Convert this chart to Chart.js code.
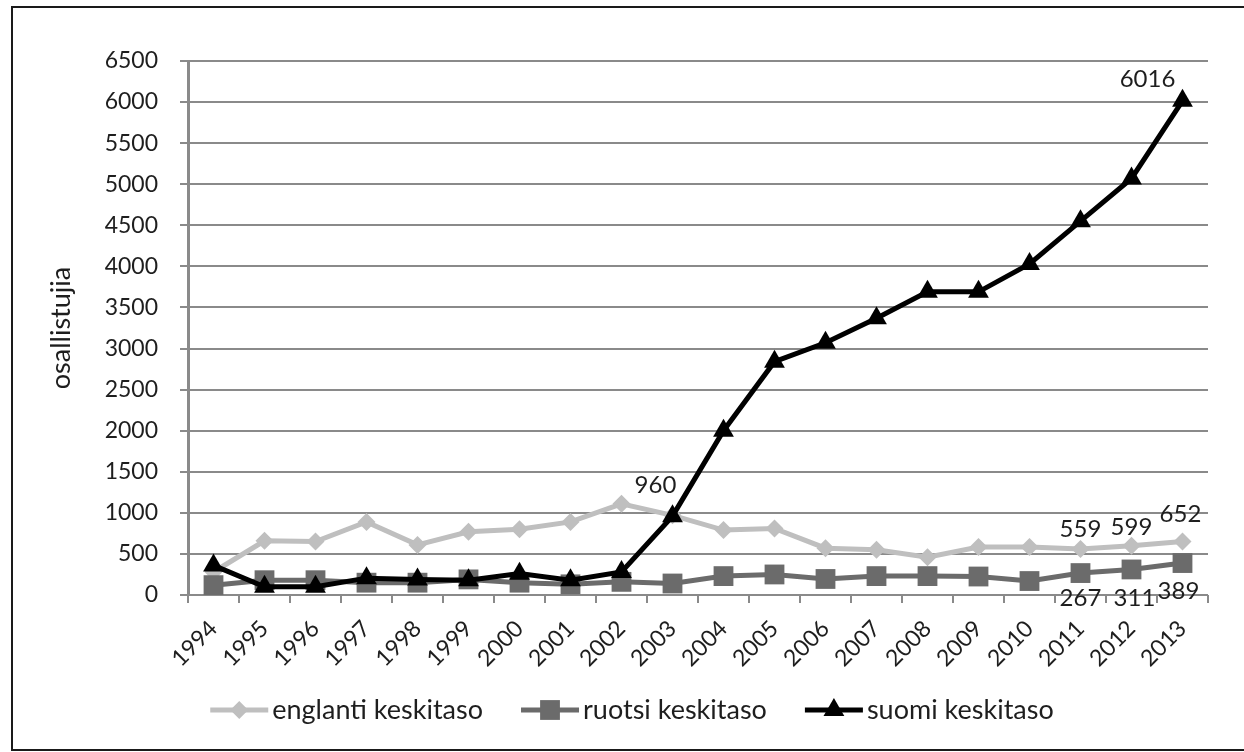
<!DOCTYPE html>
<html>
<head>
<meta charset="utf-8">
<script src="https://cdn.jsdelivr.net/npm/chart.js@4.4.1/dist/chart.umd.min.js"></script>
<style>
html,body{margin:0;padding:0;background:#fff;overflow:hidden}
#wrap{position:relative;width:1244px;height:752px}
#frame{position:absolute;left:11px;top:6px;width:1300px;height:745px;border:2px solid #1a1a1a;box-sizing:border-box;pointer-events:none}
canvas{position:absolute;left:0;top:0}
</style>
</head>
<body>
<div id="wrap"><canvas id="chart" width="1244" height="752"></canvas><div id="frame"></div></div>
<script>
// participants per year
const years = ['1994','1995','1996','1997','1998','1999','2000','2001','2002','2003','2004','2005','2006','2007','2008','2009','2010','2011','2012','2013'];
const englanti = [280, 660, 650, 890, 610, 770, 800, 890, 1110, 970, 790, 810, 570, 550, 460, 585, 585, 559, 599, 652];
const ruotsi   = [120, 180, 180, 150, 150, 190, 150, 130, 160, 140, 230, 250, 195, 230, 230, 225, 170, 267, 311, 389];
const suomi    = [360, 100, 100, 205, 190, 180, 260, 180, 280, 960, 2000, 2840, 3070, 3370, 3690, 3690, 4030, 4550, 5070, 6016];
const seriesNames = ['englanti keskitaso', 'ruotsi keskitaso', 'suomi keskitaso'];
const yTitle = 'osallistujia';
// which points carry a value label
const englantiLabelled = [17, 18, 19];
const ruotsiLabelled = [17, 18, 19];
const suomiLabelled = [9, 19];

const FONT = 'Lato';
const colors = ['#bfbfbf', '#6b6b6b', '#000000'];
const styles = ['rectRot', 'rect', 'triangle'];
const radii = [9, 14, 12];

// label offsets relative to the point, per series
const labelOffsets = [
  {17:[0,-20], 18:[0,-19], 19:[-2,-27]},
  {17:[0,25], 18:[3,29], 19:[-4,28]},
  {9:[-17,-31], 19:[-35,-21]}
];
const labelled = [englantiLabelled, ruotsiLabelled, suomiLabelled];

const valueLabels = {
  id:'valueLabels',
  afterDatasetsDraw(chart){
    const ctx = chart.ctx;
    ctx.save();
    ctx.font = '24px "' + FONT + '"';
    ctx.fillStyle = '#1e1e1e';
    ctx.textAlign = 'center';
    ctx.textBaseline = 'middle';
    labelled.forEach((idxs, ds) => {
      const meta = chart.getDatasetMeta(ds);
      idxs.forEach(i => {
        const p = meta.data[i];
        const off = labelOffsets[ds][i] || [0,-20];
        ctx.fillText(String(chart.data.datasets[ds].data[i]), p.x + off[0], p.y + off[1]);
      });
    });
    ctx.restore();
  }
};

// y axis title, placed by hand next to the tick labels
const sideTitle = {
  id:'sideTitle',
  afterDraw(chart){
    const ctx = chart.ctx, a = chart.chartArea;
    ctx.save();
    ctx.font = '27px "' + FONT + '"';
    ctx.fillStyle = '#1e1e1e';
    ctx.translate(61, (a.top + a.bottom) / 2);
    ctx.rotate(-Math.PI / 2);
    ctx.textAlign = 'center';
    ctx.textBaseline = 'middle';
    ctx.fillText(yTitle, 0, 0);
    ctx.restore();
  }
};

function marker(ctx, style, x, y, r){
  ctx.beginPath();
  if(style === 'rectRot'){
    ctx.moveTo(x, y - r); ctx.lineTo(x + r, y); ctx.lineTo(x, y + r); ctx.lineTo(x - r, y);
  } else if(style === 'rect'){
    const s = r * Math.SQRT1_2;
    ctx.rect(x - s, y - s, 2 * s, 2 * s);
  } else {
    const h = r * 1.5, w = r * Math.sqrt(3) / 2;
    ctx.moveTo(x, y - h * 2 / 3); ctx.lineTo(x + w, y + h / 3); ctx.lineTo(x - w, y + h / 3);
  }
  ctx.closePath();
  ctx.fill();
}

const bottomLegend = {
  id:'bottomLegend',
  afterDraw(chart){
    const ctx = chart.ctx;
    ctx.save();
    ctx.font = '27px "' + FONT + '"';
    const lineLen = 58, gapText = 4, gapItem = 38;
    const widths = seriesNames.map(n => ctx.measureText(n).width);
    const total = widths.reduce((t, w) => t + lineLen + gapText + w, 0) + gapItem * (seriesNames.length - 1);
    let x = 632 - total / 2;
    const y = 710;
    seriesNames.forEach((n, k) => {
      ctx.strokeStyle = colors[k];
      ctx.fillStyle = colors[k];
      ctx.lineWidth = 5;
      ctx.beginPath(); ctx.moveTo(x, y); ctx.lineTo(x + lineLen, y); ctx.stroke();
      marker(ctx, styles[k], x + lineLen / 2, y, radii[k]);
      ctx.fillStyle = '#1e1e1e';
      ctx.textAlign = 'left';
      ctx.textBaseline = 'middle';
      ctx.fillText(n, x + lineLen + gapText, y);
      x += lineLen + gapText + widths[k] + gapItem;
    });
    ctx.restore();
  }
};

const seriesData = [englanti, ruotsi, suomi];
new Chart(document.getElementById('chart'), {
  type:'line',
  data:{
    labels: years,
    datasets: seriesData.map((d, k) => ({
      label: seriesNames[k],
      data: d,
      borderColor: colors[k],
      backgroundColor: colors[k],
      borderWidth: 5,
      pointStyle: styles[k],
      pointRadius: radii[k],
      pointBorderWidth: 0,
      pointBackgroundColor: colors[k],
      tension: 0,
      order: 3 - k
    }))
  },
  options:{
    responsive:false,
    animation:false,
    layout:{padding:{left:38, top:61, right:36, bottom:0}},
    plugins:{legend:{display:false}, tooltip:{enabled:false}},
    scales:{
      x:{
        offset:true,
        grid:{display:true, drawOnChartArea:false, drawTicks:true, offset:true, tickLength:8, color:'#8a8a8a', lineWidth:2},
        border:{display:false},
        ticks:{font:{family:FONT, size:23}, color:'#1e1e1e', minRotation:45, maxRotation:45, padding:12, autoSkip:false},
        afterFit(s){ s.height = 157; }
      },
      y:{
        min:0, max:6500,
        ticks:{stepSize:500, font:{family:FONT, size:23}, color:'#1e1e1e', padding:22, callback:v => String(v)},
        grid:{color:'#8a8a8a', lineWidth:2, tickLength:8},
        border:{display:true, color:'#8a8a8a', width:3},
        afterFit(s){ s.width = 150; }
      }
    }
  },
  plugins:[valueLabels, sideTitle, bottomLegend]
});
</script>
</body>
</html>
